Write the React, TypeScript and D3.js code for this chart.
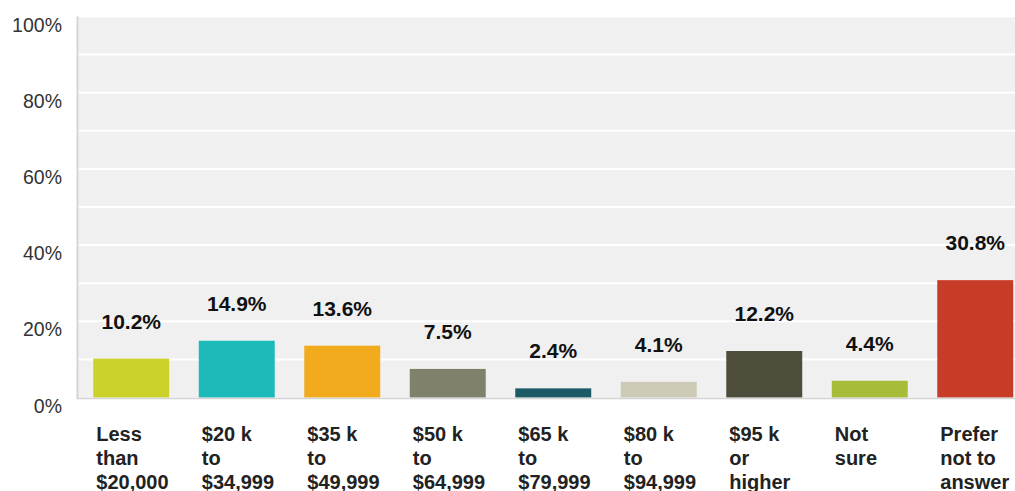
import React from "react";
import * as d3 from "d3";

const categories: string[][] = [
  ["Less", "than", "$20,000"],
  ["$20 k", "to", "$34,999"],
  ["$35 k", "to", "$49,999"],
  ["$50 k", "to", "$64,999"],
  ["$65 k", "to", "$79,999"],
  ["$80 k", "to", "$94,999"],
  ["$95 k", "or", "higher"],
  ["Not", "sure"],
  ["Prefer", "not to", "answer"],
];
const values: number[] = [10.2, 14.9, 13.6, 7.5, 2.4, 4.1, 12.2, 4.4, 30.8];
const colors: string[] = [
  "#cbd32a",
  "#1dbaba",
  "#f1ab1d",
  "#7f816b",
  "#1d5a68",
  "#cdcab6",
  "#4e4d3c",
  "#a7bc38",
  "#c63c26",
];
const yTicks: number[] = [0, 20, 40, 60, 80, 100];
const gridTicks: number[] = [10, 20, 30, 40, 50, 60, 70, 80, 90, 100];

const W = 1015;
const H = 491;
const left = 78.5;
const bandStep = 105.5;
const top = 16.5;
const bottom = 397.5;

export default function App() {
  const x = d3
    .scaleBand<number>()
    .domain(values.map((_, i) => i))
    .range([left, left + bandStep * values.length])
    .paddingInner(0.28)
    .paddingOuter(0.14);
  const y = d3.scaleLinear().domain([0, 100]).range([bottom, top]);

  return (
    <svg
      width={W}
      height={H}
      style={{ position: "absolute", left: 0, top: 0, background: "#fff" }}
      fontFamily="Liberation Sans, Arial, sans-serif"
    >
      <rect x={left} y={y(100)} width={W - left} height={y(0) - y(100)} fill="#f0f0f0" />
      {gridTicks.map((t) => (
        <line key={t} x1={left} x2={W} y1={y(t)} y2={y(t)} stroke="#ffffff" strokeWidth={2} />
      ))}
      {values.map((v, i) => (
        <rect
          key={i}
          x={x(i)!}
          y={y(v)}
          width={x.bandwidth()}
          height={y(0) - y(v)}
          fill={colors[i]}
        />
      ))}
      <line x1={left - 1} x2={left - 1} y1={y(100)} y2={y(0) + 1} stroke="#d4d4d4" strokeWidth={2} />
      <line x1={left - 2} x2={W} y1={y(0) + 1} y2={y(0) + 1} stroke="#d4d4d4" strokeWidth={1.5} />
      {yTicks.map((t) => (
        <text
          key={t}
          x={62}
          y={y(t) + 15}
          textAnchor="end"
          fontSize={19.5}
          fill="#333"
        >
          {t}%
        </text>
      ))}
      {values.map((v, i) => (
        <text
          key={i}
          x={x(i)! + x.bandwidth() / 2}
          y={y(v) - 30}
          textAnchor="middle"
          fontSize={21}
          fontWeight="bold"
          fill="#111"
        >
          {v.toFixed(1)}%
        </text>
      ))}
      {categories.map((lines, i) => (
        <text
          key={i}
          x={x(i)! + 3}
          fontSize={20}
          fontWeight="bold"
          fill="#222"
        >
          {lines.map((l, j) => (
            <tspan key={j} x={x(i)! + 3} y={441 + j * 24}>
              {l}
            </tspan>
          ))}
        </text>
      ))}
    </svg>
  );
}
